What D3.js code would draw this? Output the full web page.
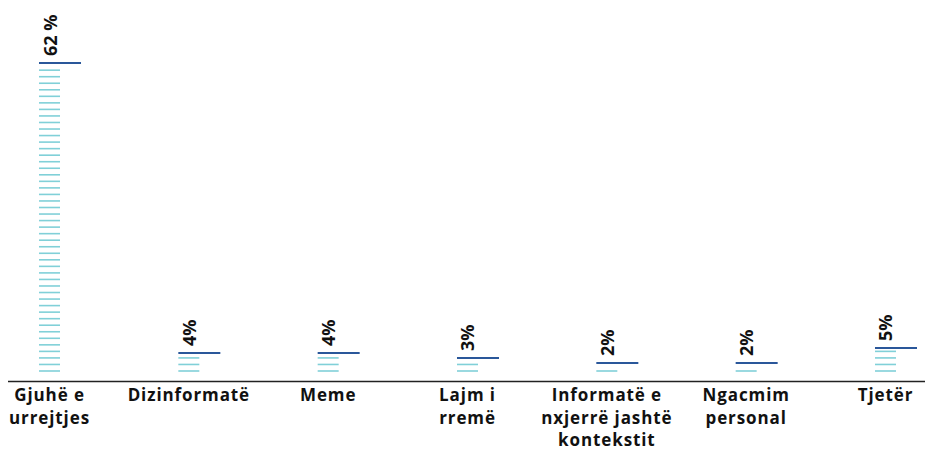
<!DOCTYPE html>
<html><head><meta charset="utf-8">
<script src="https://cdn.jsdelivr.net/npm/d3@7"></script>
<style>html,body{margin:0;padding:0;background:#fff}svg{display:block}</style>
</head><body><div id="chart"></div>
<script>
"use strict";
// ряды данных (читались с картинки)
const CATS = ["Gjuhë e\nurrejtjes","Dizinformatë","Meme","Lajm i\nrremë","Informatë e\nnxjerrë jashtë\nkontekstit","Ngacmim\npersonal","Tjetër"];
const VALS = [62,4,4,3,2,2,5];
const LBLS = ["62 %","4%","4%","3%","2%","2%","5%"];

const W = 925, H = 451;
const FONT = "'Open Sans', 'Noto Sans', sans-serif";
const svg = d3.select("#chart").append("svg").attr("width",W).attr("height",H);

const x = d3.scaleBand().domain(CATS).range([39, 917]).paddingInner(0.6985).paddingOuter(0);
const y = d3.scaleLinear().domain([0, 62]).range([373, 63]);
const bw = x.bandwidth(), sw = bw/2, STEP = 6.54, BOT = 371;

// ось-база
svg.append("line").attr("x1",8).attr("x2",W).attr("y1",381.5).attr("y2",381.5).attr("stroke","#222").attr("stroke-width",1.3);

const g = svg.append("g").selectAll("g").data(CATS.map((c,i)=>({c, v:VALS[i], l:LBLS[i]}))).join("g")
  .attr("transform",(d)=>`translate(${x(d.c)},0)`);

// штриховка столбика: тонкие голубые линии снизу вверх до верхней планки
g.each(function(d){
  const top = y(d.v), ys = [];
  for(let yy=BOT; yy>top+3; yy-=STEP) ys.push(yy);
  d3.select(this).selectAll("line.st").data(ys).join("line").attr("class","st")
    .attr("x1",0).attr("x2",sw).attr("y1",(v)=>v).attr("y2",(v)=>v)
    .attr("stroke","#80d0d8").attr("stroke-width",1.6);
});
g.append("line").attr("x1",0).attr("x2",bw).attr("y1",(d)=>y(d.v)).attr("y2",(d)=>y(d.v))
  .attr("stroke","#2a579a").attr("stroke-width",2.2);

// подписи значений (повернуты)
g.append("text").attr("transform",(d)=>`translate(${sw/2+7},${y(d.v)-7}) rotate(-90)`)
  .attr("font-family",FONT).attr("font-weight",700).attr("font-size",18).attr("fill","#111").text((d)=>d.l);

// категории по строкам
g.append("text").attr("font-family",FONT).attr("font-weight",700).attr("font-size",17)
  .attr("letter-spacing","0.9px").attr("text-anchor","middle").attr("fill","#111")
  .each(function(d){
    d3.select(this).selectAll("tspan").data(d.c.split("\n")).join("tspan")
      .attr("x",sw/2).attr("y",(s,i)=>401+i*22.5).text((s)=>s);
  });
</script></body></html>
